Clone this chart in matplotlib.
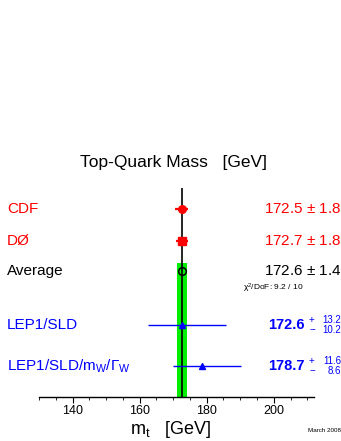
import matplotlib
matplotlib.use("Agg")
import matplotlib.pyplot as plt
import matplotlib.transforms as mtrans
from matplotlib.ticker import MultipleLocator

plt.rcParams['font.family'] = ['Liberation Sans', 'DejaVu Sans']
plt.rcParams['mathtext.fontset'] = 'custom'
plt.rcParams['mathtext.rm'] = 'Liberation Sans'
plt.rcParams['mathtext.it'] = 'Liberation Sans:italic'

# measurements
names = ['CDF', 'DØ', 'LEP1/SLD', r'LEP1/SLD/m$_\mathrm{W}$/$\Gamma_\mathrm{W}$']
mass = [172.5, 172.7, 172.6, 178.7]
err_up = [1.8, 1.8, 13.2, 11.6]
err_dn = [1.8, 1.8, 10.2, 8.6]
colors = ['red', 'red', 'blue', 'blue']
markers = ['o', 's', '^', '^']

avg_mass = 172.6
avg_err = 1.4
chi2_text = r'$\mathrm{\chi}^2$/DoF: 9.2 / 10'

# row positions (axes fraction), layout only
row_y = [0.9, 0.746, 0.345, 0.148]
avg_y = 0.603
band_top = 0.641

W, H = 341, 441
fig = plt.figure(figsize=(W / 100, H / 100), dpi=100)
ax = fig.add_axes([39 / W, 1 - 397 / H, 275 / W, 209 / H])
ax.set_xlim(130, 212)
ax.set_ylim(0, 1)

# average band and line
ax.fill_betweenx([0, band_top], avg_mass - avg_err, avg_mass + avg_err,
                 color='#00ee00', lw=0, zorder=1)
ax.plot([avg_mass, avg_mass], [0, 1], color='black', lw=1.2, zorder=2)
ax.plot([avg_mass], [avg_y], marker='o', mfc='none', mec='black', ms=5.5,
        mew=1.1, zorder=4)

for i in range(len(mass)):
    lw = 1.6 if i < 2 else 1.0
    ax.plot([mass[i] - err_dn[i], mass[i] + err_up[i]], [row_y[i], row_y[i]],
            color=colors[i], lw=lw, zorder=3, solid_capstyle='butt')
    ax.plot([mass[i]], [row_y[i]], marker=markers[i], color=colors[i],
            ms=5.5 if i < 2 else 5, zorder=4)

for s in ['top', 'left', 'right']:
    ax.spines[s].set_visible(False)
ax.spines['bottom'].set_linewidth(1.0)
ax.set_yticks([])
ax.xaxis.set_major_locator(MultipleLocator(20))
ax.xaxis.set_minor_locator(MultipleLocator(5))
ax.tick_params(axis='x', which='major', direction='out', length=4, width=0.8,
               labelsize=9, pad=2)
ax.tick_params(axis='x', which='minor', direction='out', length=2, width=0.6)

# labels
def fx(px):
    return px / W

blend = mtrans.blended_transform_factory(fig.transFigure, ax.transAxes)

for i in range(len(mass)):
    ax.text(fx(7), row_y[i], names[i], color=colors[i], fontsize=11,
            ha='left', va='center', transform=blend)
ax.text(fx(7), avg_y, 'Average', color='black', fontsize=11,
        ha='left', va='center', transform=blend)

for i in range(2):
    ax.text(fx(341), row_y[i], f'{mass[i]:.1f} $\\pm$ {err_up[i]:.1f}',
            color=colors[i], fontsize=11, ha='right', va='center',
            transform=blend)
ax.text(fx(341), avg_y, f'{avg_mass:.1f} $\\pm$ {avg_err:.1f}',
        color='black', fontsize=11, ha='right', va='center', transform=blend)
ax.text(fx(243), avg_y - 0.085, chi2_text, fontsize=6, ha='left',
        va='center', transform=blend)

for i in range(2, 4):
    ax.text(fx(305), row_y[i], f'{mass[i]:.1f}', color=colors[i],
            fontsize=10.5, fontweight='bold', ha='right', va='center',
            transform=blend)
    ax.text(fx(309), row_y[i] + 0.024, '+', color=colors[i], fontsize=7,
            ha='left', va='center', transform=blend)
    ax.text(fx(309), row_y[i] - 0.024, '\u2212', color=colors[i], fontsize=7,
            ha='left', va='center', transform=blend)
    ax.text(fx(341), row_y[i] + 0.024, f'{err_up[i]:.1f}', color=colors[i],
            fontsize=7, ha='right', va='center', transform=blend)
    ax.text(fx(341), row_y[i] - 0.024, f'{err_dn[i]:.1f}', color=colors[i],
            fontsize=7, ha='right', va='center', transform=blend)

fig.text(fx(173), 1 - 163 / H, 'Top-Quark Mass   [GeV]', fontsize=12.5,
         ha='center', va='center')
fig.text(fx(170), 1 - 429 / H, r'm$_\mathrm{t}$   [GeV]', fontsize=13,
         ha='center', va='center')
fig.text(fx(308), 1 - 431 / H, 'March 2008', fontsize=4.5, ha='left',
         va='center')

fig.savefig('out.png', dpi=100)
